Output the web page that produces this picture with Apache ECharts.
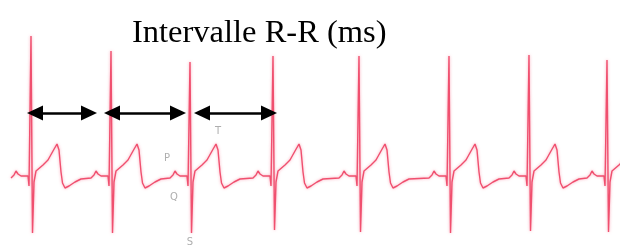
<!DOCTYPE html>
<html>
<head>
<meta charset="utf-8">
<script src="https://cdn.jsdelivr.net/npm/echarts@6/dist/echarts.min.js"></script>
<style>
  html, body { margin: 0; padding: 0; background: #fff; }
  #main { width: 620px; height: 247px; }
</style>
</head>
<body>
<div id="main"></div>
<script>
// R peak times (ms) and amplitudes (mV) of each beat
var rTimes = [310, 1110, 1900, 2730, 3590, 4490, 5290, 6070];
var rPeaks = [1.39, 1.24, 1.13, 1.19, 1.19, 1.19, 1.20, 1.15];
var sDepths = [-0.58, -0.58, -0.58, -0.55, -0.57, -0.58, -0.56, -0.57];

// wave shape around R : [ms from R, mV]
var beforeR = [[-200, -0.03], [-170, 0.0], [-150, 0.04], [-130, 0.01], [-100, -0.01], [-30, -0.01], [-20, -0.11]];
var afterR = [[30, -0.07], [50, 0.04], [120, 0.1], [170, 0.15], [220, 0.24], [260, 0.31], [280, 0.25],
  [300, 0.03], [315, -0.08], [340, -0.13], [380, -0.11], [440, -0.07], [500, -0.04]];

// R-R arrows
var arrowFrom = [350, 1120, 2020];
var arrowTo = [890, 1780, 2690];
var arrowLevel = 0.62;

// wave labels
var waveNames = ['P', 'Q', 'T', 'S'];
var wavePos = [[1670, 0.17], [1740, -0.22], [2180, 0.44], [1900, -0.67]];

var trace = [];
rTimes.forEach(function (t, i) {
  beforeR.forEach(function (p) { trace.push([t + p[0], p[1]]); });
  trace.push([t, rPeaks[i]]);
  trace.push([t + 15, sDepths[i]]);
  afterR.forEach(function (p) { trace.push([t + p[0], p[1]]); });
});

var arrows = arrowFrom.map(function (a, i) {
  return [{ coord: [a, arrowLevel] }, { coord: [arrowTo[i], arrowLevel] }];
});

var myChart = echarts.init(document.getElementById('main'));
myChart.setOption({
  animation: false,
  title: {
    text: 'Intervalle R-R (ms)',
    left: 132,
    top: 17,
    padding: 0,
    textStyle: { fontFamily: 'Liberation Serif', fontWeight: 'normal', fontSize: 32.5, color: '#000' }
  },
  grid: { left: 0, right: 0, top: 0, bottom: 0 },
  xAxis: { type: 'value', min: 0, max: 6200, show: false },
  yAxis: { type: 'value', min: -0.72, max: 1.75, show: false },
  series: [
    {
      type: 'line',
      data: trace,
      symbol: 'none',
      lineStyle: { color: '#f0506f', width: 1.4, shadowBlur: 3, shadowColor: 'rgba(245,100,130,0.6)' },
      markLine: {
        silent: true,
        symbol: ['triangle', 'triangle'],
        symbolSize: [15, 16],
        label: { show: false },
        lineStyle: { color: '#000', width: 2.5, type: 'solid' },
        itemStyle: { color: '#000' },
        z: 10,
        data: arrows
      }
    },
    {
      type: 'scatter',
      symbolSize: 0,
      data: wavePos.map(function (p, i) { return { name: waveNames[i], value: p }; }),
      label: {
        show: true,
        position: 'inside',
        formatter: '{b}',
        color: '#9a9a9a',
        fontSize: 10,
        fontFamily: 'DejaVu Sans'
      }
    }
  ]
});
</script>
</body>
</html>
